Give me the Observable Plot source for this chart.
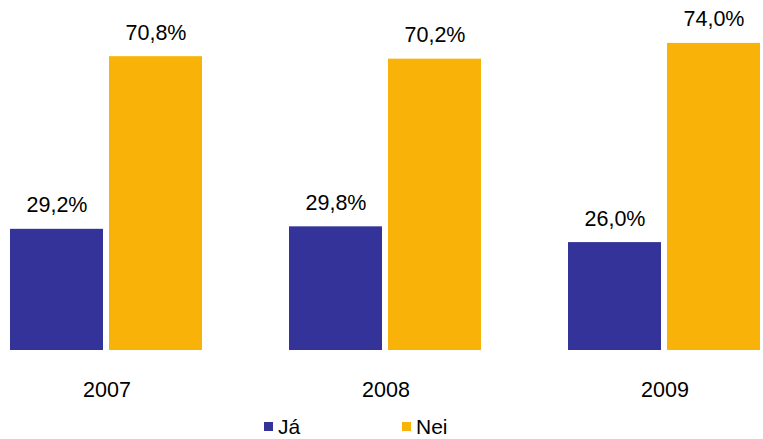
<!DOCTYPE html>
<html>
<head>
<meta charset="utf-8">
<script src="https://cdn.jsdelivr.net/npm/d3@7"></script>
<script src="https://cdn.jsdelivr.net/npm/@observablehq/plot@0.6"></script>
<style>
  html, body { margin: 0; padding: 0; background: #fff; overflow: hidden; }
  #chart { position: relative; width: 763px; font-family: "Liberation Sans", Arial, sans-serif; }
  #legend { position: relative; width: 763px; height: 29px; font-size: 21px; color: #000; }
  #legend .sw { position: absolute; top: 12px; width: 9px; height: 9px; }
  #legend .lb { position: absolute; top: 6px; line-height: 21px; }
</style>
</head>
<body>
<div id="chart"></div>
<script>
const years = ["2007", "2008", "2009"];
const series = ["Já", "Nei"];
const jaValues = [29.2, 29.8, 26.0];
const neiValues = [70.8, 70.2, 74.0];
const colors = ["#333399", "#F9B208"];

const data = [];
years.forEach((y, i) => {
  data.push({year: y, series: "Já", value: jaValues[i]});
  data.push({year: y, series: "Nei", value: neiValues[i]});
});
const fmt = v => v.toFixed(1).replace(".", ",") + "%";

const plot = Plot.plot({
  width: 763,
  height: 410,
  marginLeft: 9,
  marginRight: 0,
  marginTop: 40,
  marginBottom: 60,
  style: {fontFamily: "'Liberation Sans', Arial, sans-serif", fontSize: "21.5px", color: "#000", background: "#fff"},
  fx: {domain: years, paddingInner: 0.307, paddingOuter: 0, label: null, axis: "bottom", tickSize: 0, tickPadding: 31},
  x: {domain: series, paddingInner: 0.06, paddingOuter: 0, axis: null},
  y: {domain: [0, 74.7], axis: null},
  color: {domain: series, range: colors},
  marks: [
    Plot.barY(data, {fx: "year", x: "series", y: "value", fill: "series"}),
    Plot.text(data, {fx: "year", x: "series", y: "value", text: d => fmt(d.value), lineAnchor: "bottom", dy: -17, fill: "#000", fontSize: 21.5})
  ]
});
const chart = document.getElementById("chart");
chart.appendChild(plot);

const legend = document.createElement("div");
legend.id = "legend";
const items = [{s: "Já", sw: 264, lb: 278}, {s: "Nei", sw: 402, lb: 416}];
items.forEach((it, i) => {
  const sw = document.createElement("span");
  sw.className = "sw";
  sw.style.left = it.sw + "px";
  sw.style.background = colors[i];
  const lb = document.createElement("span");
  lb.className = "lb";
  lb.style.left = it.lb + "px";
  lb.textContent = it.s;
  legend.appendChild(sw);
  legend.appendChild(lb);
});
chart.appendChild(legend);
</script>
</body>
</html>
